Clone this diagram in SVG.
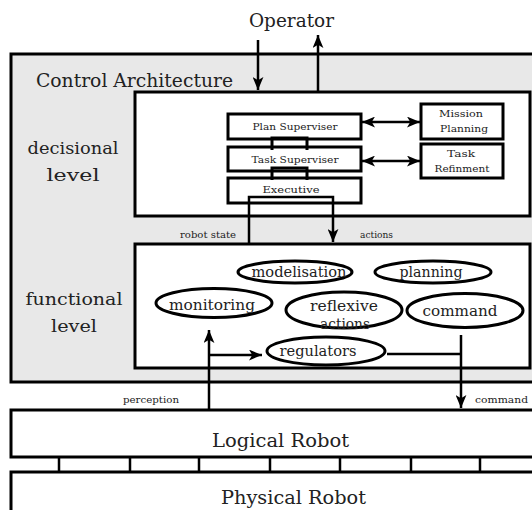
<svg xmlns="http://www.w3.org/2000/svg" width="532" height="510" viewBox="0 0 532 510">
<defs>
<style>
.box{fill:#fff;stroke:#000;stroke-width:3}
.outer{fill:#e8e8e8;stroke:#000;stroke-width:3}
.ell{fill:#fff;stroke:#000;stroke-width:3}
.ln{fill:none;stroke:#000;stroke-width:2.5}
.br{fill:none;stroke:#000;stroke-width:3}
text{font-family:"DejaVu Serif","Liberation Serif",serif;fill:#222}
.big{font-size:18px}
.lvl{font-size:17px;text-anchor:middle}
.sm{font-size:10px;text-anchor:middle}
.tiny{font-size:9px}
.el{font-size:15px;text-anchor:middle}
</style>
<marker id="ah" viewBox="0 0 12 10" refX="12" refY="5" markerWidth="13" markerHeight="11" markerUnits="userSpaceOnUse" orient="auto-start-reverse">
<path d="M0,0 L12,5 L0,10 L3,5 Z" fill="#000"/>
</marker>
</defs>
<rect width="532" height="510" fill="#fff"/>

<g id="control-architecture">
<rect class="outer" x="11" y="54" width="540" height="328"/>
<text class="big" x="36" y="87" textLength="197" lengthAdjust="spacingAndGlyphs">Control Architecture</text>
<text class="lvl" x="73" y="154" textLength="91" lengthAdjust="spacingAndGlyphs">decisional</text>
<text class="lvl" x="73" y="181" textLength="53" lengthAdjust="spacingAndGlyphs">level</text>
<text class="lvl" x="74" y="305" textLength="97" lengthAdjust="spacingAndGlyphs">functional</text>
<text class="lvl" x="74" y="332" textLength="46" lengthAdjust="spacingAndGlyphs">level</text>
</g>

<g id="operator">
<text class="big" x="249" y="27" textLength="85" lengthAdjust="spacingAndGlyphs">Operator</text>
</g>

<g id="decisional-level">
<rect class="box" x="135" y="92" width="395" height="124"/>
</g>

<g id="plan-superviser">
<rect class="box" x="228" y="114" width="133" height="25"/>
<text class="sm" x="295" y="130" textLength="85" lengthAdjust="spacingAndGlyphs">Plan Superviser</text>
</g>
<g id="task-superviser">
<rect class="box" x="228" y="147" width="133" height="24"/>
<text class="sm" x="295" y="163" textLength="87" lengthAdjust="spacingAndGlyphs">Task Superviser</text>
</g>
<g id="executive">
<rect class="box" x="228" y="178" width="133" height="25"/>
<text class="sm" x="291" y="193" textLength="57" lengthAdjust="spacingAndGlyphs">Executive</text>
</g>
<g id="mission-planning">
<rect class="box" x="421" y="104" width="82" height="35"/>
<text class="sm" x="461" y="117" textLength="44" lengthAdjust="spacingAndGlyphs">Mission</text>
<text class="sm" x="464" y="132" textLength="48" lengthAdjust="spacingAndGlyphs">Planning</text>
</g>
<g id="task-refinment">
<rect class="box" x="421" y="144" width="82" height="34"/>
<text class="sm" x="461" y="157" textLength="28" lengthAdjust="spacingAndGlyphs">Task</text>
<text class="sm" x="462" y="172" textLength="55" lengthAdjust="spacingAndGlyphs">Refinment</text>
</g>

<g id="functional-level">
<rect class="box" x="135" y="244" width="395" height="124"/>
</g>
<g id="modelisation">
<ellipse class="ell" cx="295" cy="272" rx="57" ry="11"/>
<text class="el" x="299" y="277" textLength="95" lengthAdjust="spacingAndGlyphs">modelisation</text>
</g>
<g id="planning">
<ellipse class="ell" cx="433" cy="272" rx="58" ry="11"/>
<text class="el" x="431" y="277" textLength="63" lengthAdjust="spacingAndGlyphs">planning</text>
</g>
<g id="monitoring">
<ellipse class="ell" cx="214" cy="303" rx="58" ry="14.5"/>
<text class="el" x="212" y="310" textLength="86" lengthAdjust="spacingAndGlyphs">monitoring</text>
</g>
<g id="reflexive-actions">
<ellipse class="ell" cx="344" cy="310" rx="58" ry="18"/>
<text class="el" x="344" y="311" textLength="68" lengthAdjust="spacingAndGlyphs">reflexive</text>
<text class="el" x="345" y="329" style="font-size:14px" textLength="50" lengthAdjust="spacingAndGlyphs">actions</text>
</g>
<g id="command">
<ellipse class="ell" cx="465" cy="310.5" rx="58" ry="17"/>
<text class="el" x="460" y="316" textLength="75" lengthAdjust="spacingAndGlyphs">command</text>
</g>
<g id="regulators">
<ellipse class="ell" cx="326" cy="351" rx="59" ry="14"/>
<text class="el" x="318" y="356" textLength="77" lengthAdjust="spacingAndGlyphs">regulators</text>
</g>

<g id="logical-robot">
<rect class="box" x="11" y="410" width="540" height="47"/>
<text x="212" y="447" style="font-size:19px" textLength="137" lengthAdjust="spacingAndGlyphs">Logical Robot</text>
</g>
<g id="physical-robot">
<rect class="box" x="11" y="472" width="540" height="60"/>
<text x="221" y="504" style="font-size:19px" textLength="145" lengthAdjust="spacingAndGlyphs">Physical Robot</text>
</g>

<g id="connectors">
<line class="ln" x1="258" y1="40" x2="258" y2="90" marker-end="url(#ah)"/>
<line class="ln" x1="318" y1="91" x2="318" y2="35" marker-end="url(#ah)"/>
<line class="ln" x1="362" y1="122" x2="420" y2="122" marker-start="url(#ah)" marker-end="url(#ah)"/>
<line class="ln" x1="362" y1="161" x2="420" y2="161" marker-start="url(#ah)" marker-end="url(#ah)"/>
<path class="br" d="M272,150 V138 H307 V150"/>
<path class="br" d="M272,180 V168 H307 V180"/>
<path class="ln" d="M249,244 V197 H333 V242" marker-end="url(#ah)"/>
<line class="ln" x1="209" y1="410" x2="209" y2="330" marker-end="url(#ah)"/>
<line class="ln" x1="209" y1="355" x2="262" y2="355" marker-end="url(#ah)"/>
<line class="ln" x1="387" y1="354" x2="461" y2="354"/>
<line class="ln" x1="461" y1="335" x2="461" y2="408" marker-end="url(#ah)"/>
<line class="ln" x1="59" y1="457" x2="59" y2="472"/>
<line class="ln" x1="130" y1="457" x2="130" y2="472"/>
<line class="ln" x1="199" y1="457" x2="199" y2="472"/>
<line class="ln" x1="270" y1="457" x2="270" y2="472"/>
<line class="ln" x1="340" y1="457" x2="340" y2="472"/>
<line class="ln" x1="411" y1="457" x2="411" y2="472"/>
<line class="ln" x1="480" y1="457" x2="480" y2="472"/>
<text class="tiny" x="180" y="238" textLength="56" lengthAdjust="spacingAndGlyphs">robot state</text>
<text class="tiny" x="360" y="238" textLength="33" lengthAdjust="spacingAndGlyphs">actions</text>
<text class="tiny" x="123" y="403" textLength="56" lengthAdjust="spacingAndGlyphs">perception</text>
<text class="tiny" x="475" y="403" textLength="53" lengthAdjust="spacingAndGlyphs">command</text>
</g>
</svg>
